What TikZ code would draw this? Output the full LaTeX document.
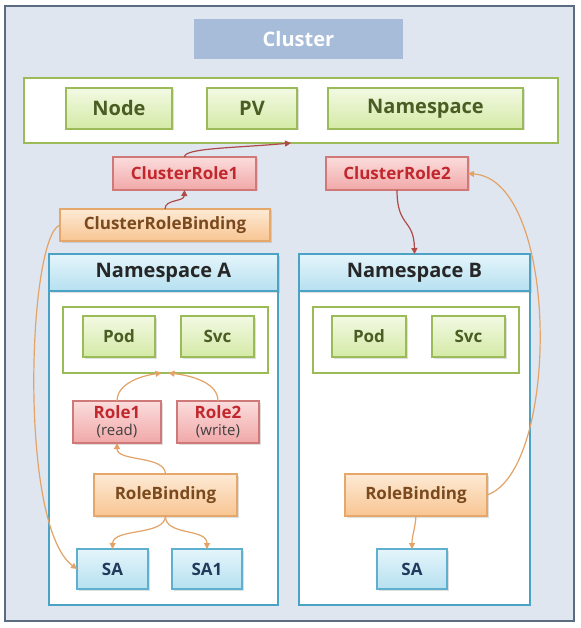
\documentclass[tikz,border=0pt]{standalone}
\usepackage{fontspec}
\setmainfont{Open Sans}
\usetikzlibrary{arrows.meta,shadows,calc}
\definecolor{bgc}{HTML}{DFE6F0}
\definecolor{framec}{HTML}{5A6B82}
\definecolor{titlec}{HTML}{A7BCD9}
\definecolor{grb}{HTML}{9BBB59}
\definecolor{grt}{HTML}{F3F9E3}
\definecolor{grbot}{HTML}{D4EAA6}
\definecolor{grtx}{HTML}{4A5D23}
\definecolor{rdt}{HTML}{FBDCDC}
\definecolor{rdbot}{HTML}{F1A8A8}
\definecolor{rdb}{HTML}{CF7A78}
\definecolor{rdtx}{HTML}{C0282D}
\definecolor{ort}{HTML}{FDEAD5}
\definecolor{orbot}{HTML}{F8C592}
\definecolor{orb}{HTML}{E6A86A}
\definecolor{ortx}{HTML}{7A4A1E}
\definecolor{blt}{HTML}{E5F5FB}
\definecolor{blbot}{HTML}{B6E0F0}
\definecolor{blb}{HTML}{5FB0CF}
\definecolor{bltx}{HTML}{1F3A5A}
\definecolor{nsb}{HTML}{4AA3C4}
\definecolor{redarr}{HTML}{B04A48}
\definecolor{orarr}{HTML}{E3A366}
\newcommand\bx[7]{\node[#2, minimum width={#5-#3}, minimum height={#6-#4}] (#1) at ({(#3+#5)/2},{(#4+#6)/2}) {#7};}
\tikzset{
  base/.style={inner sep=0, outer sep=0, line width=1.2pt, font=\bfseries},
  shad/.style={drop shadow={shadow xshift=1.5pt, shadow yshift=-1.5pt, opacity=0.25}},
  titlebox/.style={base, fill=titlec, draw=none, text=white, font=\bfseries\fontsize{20}{24}\selectfont},
  gcont/.style={base, fill=white, draw=grb, line width=2pt},
  gbox/.style={base, shad, draw=grb, top color=grt, bottom color=grbot, text=grtx},
  gbig/.style={gbox, font=\bfseries\fontsize{20}{24}\selectfont},
  gsmall/.style={gbox, font=\bfseries\fontsize{17}{20}\selectfont},
  rbox/.style={base, shad, draw=rdb, top color=rdt, bottom color=rdbot, text=rdtx, font=\bfseries\fontsize{17}{20}\selectfont, align=center},
  obox/.style={base, shad, draw=orb, top color=ort, bottom color=orbot, text=ortx, font=\bfseries\fontsize{17}{20}\selectfont},
  bbox/.style={base, shad, draw=blb, top color=blt, bottom color=blbot, text=bltx, font=\bfseries\fontsize{17}{20}\selectfont},
  nsbody/.style={base, fill=white, draw=nsb, line width=1.6pt},
  nshead/.style={base, shad, draw=nsb, line width=1.6pt, top color=blt, bottom color=blbot, text=black!85, font=\bfseries\fontsize{20}{24}\selectfont},
  rarr/.style={draw=redarr, line width=1.2pt, -{Triangle[length=6pt,width=6pt]}},
  oarr/.style={draw=orarr, line width=1.2pt, -{Triangle[length=6pt,width=6pt]}},
}
\begin{document}
\begin{tikzpicture}[x=1pt,y=-1pt]
\useasboundingbox (0,0) rectangle (580,628);
\fill[white] (0,0) rectangle (580,628);
\bx{cluster}{base, fill=bgc, draw=framec, line width=1.5pt}{5}{6}{574}{621}{}
\bx{title}{titlebox}{194}{19}{403}{59}{Cluster}
% top container
\bx{top}{gcont}{24}{78}{558}{143}{}
\bx{nodeb}{gbig}{66}{88}{172}{129}{Node}
\bx{pv}{gbig}{207}{88}{297}{129}{PV}
\bx{nsres}{gbig}{328}{88}{523}{129}{Namespace}
% cluster roles
\bx{cr1}{rbox}{113}{157}{256}{190}{ClusterRole1}
\bx{cr2}{rbox}{326}{157}{468}{190}{ClusterRole2}
\bx{crb}{obox}{60}{209}{270}{241}{ClusterRoleBinding}
% Namespace A
\bx{nsA}{nsbody}{49}{254}{278}{605}{}
\bx{nsAh}{nshead}{49}{254}{278}{291}{Namespace A}
\bx{gcA}{gcont}{63}{307}{268}{373}{}
\bx{podA}{gsmall}{83}{316}{155}{357}{Pod}
\bx{svcA}{gsmall}{181}{316}{254}{357}{Svc}
\bx{role1}{rbox}{73}{401}{161}{443}{Role1\\[-3pt]{\mdseries\fontsize{15}{18}\selectfont\color{black!75}(read)}}
\bx{role2}{rbox}{177}{401}{259}{443}{Role2\\[-3pt]{\mdseries\fontsize{15}{18}\selectfont\color{black!75}(write)}}
\bx{rbA}{obox}{94}{474}{237}{516}{RoleBinding}
\bx{saA}{bbox}{77}{549}{148}{589}{SA}
\bx{sa1}{bbox}{172}{549}{242}{589}{SA1}
% Namespace B
\bx{nsB}{nsbody}{299}{254}{530}{605}{}
\bx{nsBh}{nshead}{299}{254}{530}{291}{Namespace B}
\bx{gcB}{gcont}{313}{307}{519}{373}{}
\bx{podB}{gsmall}{332}{316}{406}{357}{Pod}
\bx{svcB}{gsmall}{432}{316}{505}{357}{Svc}
\bx{rbB}{obox}{345}{474}{487}{516}{RoleBinding}
\bx{saB}{bbox}{377}{549}{447}{589}{SA}
% arrows
\coordinate (gAl) at ($(gcA.south)+(-4,0)$);
\coordinate (gAr) at ($(gcA.south)+(3,0)$);
\draw[rarr] (cr1.north) .. controls (184,148) and (235,148) .. (top.south);
\draw[rarr] (crb.north) .. controls (165,199) and (184,202) .. (cr1.south);
\draw[oarr] (crb.west) .. controls (28,236) and (18,525) .. (saA.west);
\draw[rarr] (cr2.south) .. controls (397,228) and (414,218) .. (nsBh.north);
\draw[oarr] (rbB.east) .. controls (560,470) and (560,180) .. (cr2.east);
\draw[oarr] (role1.north) .. controls (117,384) and (140,376) .. (gAl);
\draw[oarr] (role2.north) .. controls (218,384) and (195,376) .. (gAr);
\draw[oarr] (rbA.north) .. controls (165,455) and (117,462) .. (role1.south);
\draw[oarr] (rbA.south) .. controls (165,536) and (113,528) .. (saA.north);
\draw[oarr] (rbA.south) .. controls (165,536) and (207,528) .. (sa1.north);
\draw[oarr] (rbB.south) .. controls (415,530) and (412,535) .. (saB.north);
\end{tikzpicture}
\end{document}
